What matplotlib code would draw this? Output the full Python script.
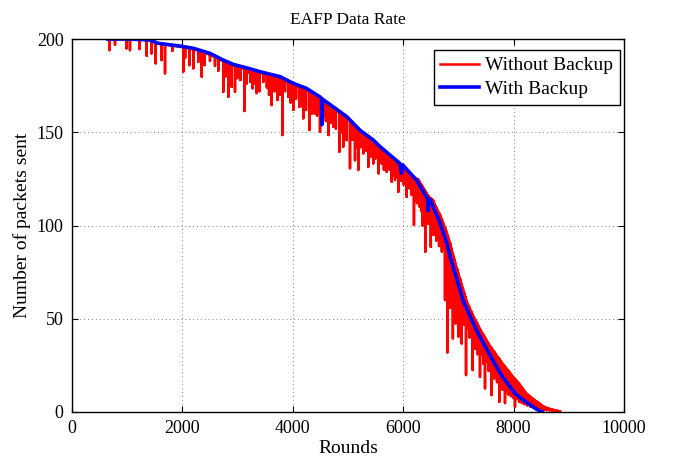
import numpy as np
import matplotlib
matplotlib.use('Agg')
from matplotlib import pyplot as plt

plt.rcParams['font.family'] = ['Liberation Serif', 'DejaVu Serif']

# Without Backup: each entry is one drop (round, value before drop, value at drop)
red_rounds = [650, 676, 779, 990, 1050, 1220, 1353, 1443, 1516, 1624, 1685, 1817,
              2017, 2050, 2125, 2198, 2288, 2350, 2400, 2500, 2590, 2650, 2741, 2780,
              2832, 2860, 2893, 2953, 2995, 3050, 3122, 3160, 3194, 3230, 3273, 3310,
              3346, 3400, 3466, 3530, 3570, 3617, 3670, 3720, 3760, 3810, 3860, 3919,
              3960, 4010, 4060, 4118, 4150, 4190, 4240, 4299, 4350, 4402, 4440, 4493,
              4550, 4600, 4644, 4690, 4734, 4780, 4843, 4880, 4915, 4950, 4976, 5036,
              5080, 5127, 5160, 5187, 5230, 5277, 5320, 5368, 5410, 5458, 5500, 5549,
              5580, 5610, 5650, 5701, 5750, 5791, 5820, 5851, 5880, 5912, 5960, 6010,
              6063, 6110, 6154, 6195, 6220,
              6250, 6275, 6300, 6325, 6350, 6375, 6400, 6425, 6450, 6475, 6500, 6525,
              6550, 6575, 6600, 6625, 6650, 6675, 6700, 6725, 6757, 6780, 6800, 6825,
              6850, 6875, 6900, 6925, 6950, 6975, 7000, 7030, 7059, 7080, 7100, 7120,
              7138, 7170, 7200, 7230, 7259, 7280, 7300, 7325, 7350, 7370, 7391, 7420,
              7450, 7466, 7482, 7515, 7550, 7575, 7603, 7625, 7650, 7675, 7700, 7720,
              7741, 7770, 7800, 7820, 7844, 7870, 7900, 7925, 7950, 7975, 8000, 8025,
              8060, 8100, 8125, 8150, 8175, 8200, 8225, 8250, 8275, 8300, 8325, 8350,
              8375, 8400, 8425, 8450, 8475, 8500, 8550, 8600, 8650, 8700, 8750, 8800,
              8840]
red_top = [200, 200, 200, 200, 200, 200, 199.5, 199, 198, 197.3, 197, 196.5,
           195.5, 195.3, 195, 194.5, 193.8, 193.2, 192.7, 191.5, 190.3, 189.3, 188, 187.5,
           186.8, 186.4, 186, 185.4, 185, 184.5, 184, 183.8, 183.6, 183.3, 183, 182.6,
           182.3, 181.8, 181.4, 181, 180.6, 180.3, 179.8, 179.4, 179, 178.5, 177.8, 176.8,
           176.2, 175.4, 174.9, 174.3, 173.9, 173.4, 172.8, 171.9, 170.9, 170, 169.2, 168.2,
           166.8, 165.7, 164.9, 163.9, 162.9, 161.8, 160.5, 159.7, 158.9, 158.1, 157.5, 156,
           154.8, 153.6, 152.7, 152, 150.8, 149.4, 148.4, 147.2, 146.2, 145, 143.8, 142.3,
           141.4, 140.6, 139.6, 138.3, 137.2, 136, 135.2, 134.5, 133.8, 133, 131.9, 130.6,
           129.3, 127.8, 126.6, 125.3, 124.5,
           125, 124.5, 123.4, 122, 120.9, 119.6, 118.4, 117.2, 116, 115, 114.5, 113.8,
           113, 111, 109.5, 108, 106.7, 105, 103.3, 101, 98.8, 96.8, 95, 92.8,
           90.5, 87.5, 84.5, 82, 79.3, 76.8, 74.3, 71.3, 68.5, 66.3, 64.3, 62.2,
           60.2, 58, 56.1, 54, 52.2, 50.9, 49.6, 48.3, 47, 45.7, 44.4, 42.9,
           41.5, 40.7, 39.9, 38.2, 36.5, 35.3, 34.2, 33.2, 32.2, 31.1, 30, 29.2,
           28.4, 27.1, 25.9, 25.1, 24.3, 23.3, 22.3, 21.3, 20.3, 19.3, 18.4, 17.8,
           16.5, 15.1, 14, 13.2, 12, 11, 10.2, 9.4, 8.8, 8.2, 7.6, 7,
           6.5, 5.9, 5.4, 4.9, 4.4, 3.8, 2.8, 2.2, 1.7, 1.3, 1, 0.6,
           0.3]
red_low = [200, 194, 197, 195, 194, 194.6, 191, 192.3, 187, 188.7, 181.6, 193.6,
           182.5, 190, 186, 184.3, 187.8, 179.8, 186, 188.2, 185.7, 183, 171.7, 180,
           169, 178, 174.4, 171.7, 179, 178, 161.4, 176, 182, 177, 173.6, 176,
           171, 172, 177, 174, 170, 164.6, 172, 167.3, 170, 148.5, 172, 169,
           166, 162, 168, 163.7, 164, 157.5, 162, 151.2, 160, 160, 159, 150.3,
           158, 156, 148.5, 155, 153, 152, 139.6, 150, 142.3, 150, 145.8, 130.7,
           146, 135, 142, 129.8, 142, 138.7, 140, 131.5, 137, 133.3, 136, 128,
           134, 133.3, 130, 128.8, 130, 123.5, 127, 124.4, 126, 118.1, 124, 122,
           115.4, 120, 116.4, 100.3, 114,
           112, 112, 110, 108, 100, 106, 86, 103, 101, 101, 88.6, 98,
           95, 96, 92, 93, 89, 90, 86, 87, 60, 82, 32, 78,
           56, 72, 39.5, 66, 47.5, 61, 40.5, 56, 36.8, 51, 47, 47,
           19.8, 45, 40, 42, 22.5, 39, 34, 36, 31, 33, 19, 31,
           26, 29, 12.7, 27, 22, 25, 9.1, 22, 18, 20, 16, 18,
           5.5, 15, 12, 13, 4.8, 11.5, 9.5, 10, 8.5, 9, 7.5, 2.8,
           7, 5.5, 5.5, 4.8, 5, 4.2, 4.5, 3.6, 3.8, 3, 3.2, 2.6,
           2.6, 2.2, 2, 1.8, 1.6, 1.5, 1.2, 1, 0.8, 0.6, 0.4, 0.2,
           0]

# With Backup
blue_rounds = [650, 1000, 1400, 1560, 1960, 2200, 2500, 2740, 2920, 3190, 3400, 3770,
               4010, 4250, 4490, 4520, 4525, 4535, 4730, 4980, 5220, 5460, 5580, 5940,
               5970, 5990, 6240, 6440, 6450, 6460, 6490, 6670, 6790, 6850, 7030, 7080,
               7270, 7360, 7570, 7690, 7800, 8025, 8150, 8300, 8400, 8480, 8520]
blue_vals = [200, 200, 199.5, 197.7, 196.2, 195, 192.3, 188.7, 186.4, 184.3, 182.5, 179.8,
             176.2, 173.5, 169, 168.2, 154, 167.8, 163.7, 158.3, 151, 145.8, 142.3, 133.3,
             128, 132.5, 124.4, 114.5, 108, 114, 113.7, 101.2, 90.5, 83.3, 65.4, 60,
             47.6, 42, 30.5, 24.3, 18.8, 10, 7, 3.8, 1.8, 0.5, 0]

# vertical drops: top -> low -> top for every entry
rx = np.repeat(red_rounds, 3)
ry = np.column_stack([red_top, red_low, red_top]).ravel()

fig = plt.figure(figsize=(6.76, 4.57), dpi=100)
ax = fig.add_axes([72/676, 45/457, 552/676, 373/457])

ax.plot(rx, ry, color='#ff0000', lw=1.8, label='Without Backup')
ax.plot(blue_rounds, blue_vals, color='#0000ff', lw=2.6, label='With Backup')

ax.set_xlim(0, 10000)
ax.set_ylim(0, 200)
ax.set_xticks(np.arange(0, 10001, 2000))
ax.set_yticks(np.arange(0, 201, 50))
ax.grid(True, color='0.5', linestyle=(0, (1, 3)), lw=0.7)
ax.tick_params(direction='in', top=True, right=True, length=4, labelsize=13, pad=6)
for s in ax.spines.values():
    s.set_linewidth(1.0)

ax.set_xlabel('Rounds', fontsize=14, labelpad=2)
ax.set_ylabel('Number of packets sent', fontsize=14, labelpad=4)
ax.set_title('EAFP Data Rate', fontsize=12.5, pad=11)

leg = ax.legend(loc='upper right', bbox_to_anchor=(1 - 4/552, 1 - 11/373), borderaxespad=0,
                fontsize=14, fancybox=False, framealpha=1, edgecolor='black',
                borderpad=0.35, handlelength=2.0, handletextpad=0.3, labelspacing=0.3)
leg.get_frame().set_linewidth(1.0)

plt.savefig('out.png', dpi=100)
